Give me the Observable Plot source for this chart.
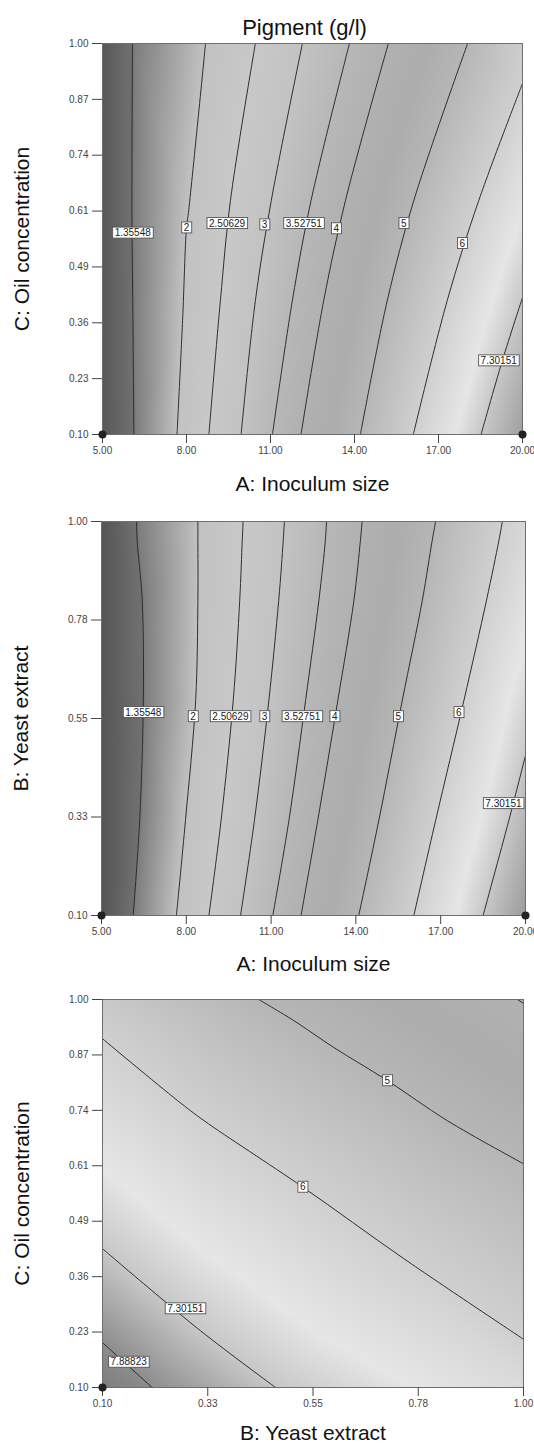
<!DOCTYPE html>
<html><head><meta charset="utf-8">
<script src="https://cdn.jsdelivr.net/npm/d3@7"></script>
<script src="https://cdn.jsdelivr.net/npm/@observablehq/plot@0.6"></script>
<style>
body{margin:0;background:#fff;font-family:"Liberation Sans",Arial,sans-serif;}
svg{display:block}
</style></head><body><div id="chart"></div>
<script>
// ---- grey ramp of the response (value -> shade) ----
const shadeStops = [0.85, 1.355, 1.38, 2.0, 2.5, 3.0, 3.5, 4.0, 4.5, 5.0, 6.0, 6.8, 7.3, 7.9, 8.2];
const shadeGrays = ["#555555","#717171","#7e7e7e","#c2c2c2","#c8c8c8","#c3c3c3","#b8b8b8","#b1b1b1","#adadad","#b6b6b6","#d0d0d0","#e6e6e6","#c8c8c8","#8c8c8c","#7a7a7a"];

// ---- Plot 1: A (inoculum) x C (oil) ----
const p1Levels = [1.35548, 2, 2.50629, 3, 3.52751, 4, 5, 6, 7.30151];
const p1LinePoints = [
  [[6.07,1.0],[6.05,0.611],[6.08,0.408],[6.12,0.1]],
  [[8.68,1.0],[8.07,0.611],[8.0,0.576],[7.86,0.362],[7.66,0.1]],
  [[10.46,1.0],[9.57,0.639],[9.21,0.408],[8.80,0.1]],
  [[12.14,1.0],[11.03,0.639],[10.46,0.408],[9.95,0.1]],
  [[13.82,1.0],[12.45,0.639],[11.78,0.408],[11.07,0.1]],
  [[15.21,1.0],[13.68,0.639],[12.90,0.408],[12.09,0.1]],
  [[18.04,1.0],[16.12,0.639],[15.17,0.408],[14.21,0.1]],
  [[20.0,0.908],[18.44,0.639],[17.31,0.408],[16.10,0.1]],
  [[20.0,0.415],[19.28,0.270],[18.52,0.1]]
];
const p1LabelText = ["1.35548","2","2.50629","3","3.52751","4","5","6","7.30151"];
const p1LabelX = [6.08, 8.0, 9.45, 10.79, 12.19, 13.35, 15.76, 17.85, 19.15];
const p1LabelY = [0.564, 0.576, 0.586, 0.583, 0.586, 0.574, 0.586, 0.540, 0.270];
const p1EdgeSamples = [[5,1.0,0.9],[5,0.55,0.9],[5,0.1,0.9],[20,1.0,5.9],[20,0.1,7.7]];
const p1XTicks = [5, 8, 11, 14, 17, 20];
const p1XTickLabels = ["5.00","8.00","11.00","14.00","17.00","20.00"];
const p1YTicks = [0.1, 0.2286, 0.3571, 0.4857, 0.6143, 0.7429, 0.8714, 1.0];
const p1YTickLabels = ["0.10","0.23","0.36","0.49","0.61","0.74","0.87","1.00"];
const p1Design = [[5,0.1],[20,0.1]];

// ---- Plot 2: A (inoculum) x B (yeast) ----
const p2Levels = [1.35548, 2, 2.50629, 3, 3.52751, 4, 5, 6, 7.30151];
const p2LinePoints = [
  [[6.24,1.0],[6.26,0.957],[6.44,0.820],[6.48,0.591],[6.35,0.317],[6.12,0.1]],
  [[8.41,1.0],[8.41,0.957],[8.41,0.820],[8.33,0.591],[7.97,0.317],[7.65,0.1]],
  [[10.01,1.0],[9.98,0.957],[9.89,0.820],[9.66,0.591],[9.23,0.317],[8.80,0.1]],
  [[11.47,1.0],[11.43,0.957],[11.27,0.820],[10.92,0.591],[10.41,0.317],[9.92,0.1]],
  [[12.96,1.0],[12.92,0.957],[12.69,0.820],[12.22,0.591],[11.63,0.317],[11.06,0.1]],
  [[14.22,1.0],[14.16,0.957],[13.93,0.820],[13.36,0.591],[12.65,0.317],[12.06,0.1]],
  [[16.82,1.0],[16.70,0.957],[16.35,0.820],[15.64,0.591],[14.81,0.317],[14.10,0.1]],
  [[19.18,1.0],[19.06,0.957],[18.62,0.820],[17.82,0.591],[16.82,0.317],[16.05,0.1]],
  [[20.0,0.4655],[19.41,0.317],[18.50,0.1]]
];
const p2LabelText = ["1.35548","2","2.50629","3","3.52751","4","5","6","7.30151"];
const p2LabelX = [6.48, 8.24, 9.56, 10.77, 12.10, 13.25, 15.50, 17.64, 19.22];
const p2LabelY = [0.564, 0.5546, 0.5546, 0.5546, 0.5546, 0.5546, 0.5546, 0.564, 0.356];
const p2EdgeSamples = [[5,1.0,0.85],[5,0.55,0.85],[5,0.1,0.85],[20,1.0,6.25],[20,0.1,7.75]];
const p2XTicks = [5, 8, 11, 14, 17, 20];
const p2XTickLabels = ["5.00","8.00","11.00","14.00","17.00","20.00"];
const p2YTicks = [0.1, 0.325, 0.55, 0.775, 1.0];
const p2YTickLabels = ["0.10","0.33","0.55","0.78","1.00"];
const p2Design = [[5,0.1],[20,0.1]];

// ---- Plot 3: B (yeast) x C (oil) ----
const p3Levels = [4, 5, 6, 7.30151, 7.88823];
const p3LinePoints = [
  [[0.987,1.0],[1.0,0.991]],
  [[0.434,1.0],[0.509,0.951],[0.594,0.889],[0.709,0.812],[0.837,0.719],[1.0,0.619]],
  [[0.1,0.909],[0.26,0.766],[0.317,0.719],[0.528,0.565],[0.744,0.399],[1.0,0.212]],
  [[0.1,0.422],[0.309,0.232],[0.47,0.1]],
  [[0.1,0.204],[0.206,0.1]]
];
const p3LabelText = ["5","6","7.30151","7.88823"];
const p3LabelX = [0.709, 0.528, 0.277, 0.156];
const p3LabelY = [0.812, 0.565, 0.283, 0.159];
const p3EdgeSamples = [[0.1,1.0,5.7],[1.0,1.0,3.95],[1.0,0.1,6.4],[0.1,0.1,8.15]];
const p3XTicks = [0.1, 0.325, 0.55, 0.775, 1.0];
const p3XTickLabels = ["0.10","0.33","0.55","0.78","1.00"];
const p3YTicks = [0.1, 0.2286, 0.3571, 0.4857, 0.6143, 0.7429, 0.8714, 1.0];
const p3YTickLabels = ["0.10","0.23","0.36","0.49","0.61","0.74","0.87","1.00"];
const p3Design = [[0.1,0.1]];

const FONT = "Liberation Sans, Arial, sans-serif";

function panel(o) {
  const lineRows = [];
  o.levels.forEach((lv, i) => o.lines[i].forEach(([x, y]) => lineRows.push({x, y, v: lv, id: i})));
  const samples = lineRows.map(d => ({x: d.x, y: d.y, v: d.v}))
    .concat(o.edge.map(([x, y, v]) => ({x, y, v})));
  const labels = o.labText.map((t, i) => ({t, x: o.labX[i], y: o.labY[i]}));
  const marks = [
    Plot.raster(samples, {x: "x", y: "y", fill: "v", interpolate: "barycentric"}),
    Plot.line(lineRows, {x: "x", y: "y", z: "id", curve: "catmull-rom", stroke: "#2e2e2e", strokeWidth: 1}),
    Plot.frame({stroke: "#6e6e6e"}),
    Plot.axisX({ticks: o.xTicks, tickFormat: d => o.xTickLabels[o.xTicks.indexOf(d)], tickSize: 9, tickPadding: 3, fontSize: 10, color: "#444", label: null}),
    Plot.axisY({ticks: o.yTicks, tickFormat: d => o.yTickLabels[o.yTicks.indexOf(d)], tickSize: 10, tickPadding: 4, fontSize: 10, color: "#444", label: null}),
    Plot.text(labels, {x: "x", y: "y", text: "t", fontSize: 10, fill: "#222", ariaDescription: "clabel"}),
    Plot.dot(o.design, {x: d => d[0], y: d => d[1], r: 4, fill: "#222", stroke: "none"}),
    Plot.text([o.xLabel], {frameAnchor: "bottom", lineAnchor: "middle", textAnchor: "middle", dy: o.xLabelDy, fontSize: 21, fill: "#111", text: d => d}),
    Plot.text([o.yLabel], {frameAnchor: "left", lineAnchor: "middle", textAnchor: "middle", rotate: -90, dx: -80, fontSize: 21, fill: "#111", text: d => d})
  ];
  if (o.title) marks.push(Plot.text([o.title], {frameAnchor: "top", lineAnchor: "middle", textAnchor: "middle", dy: -16, dx: -8, fontSize: 22, fill: "#111", text: d => d}));
  return Plot.plot({
    width: 534, height: o.height,
    marginTop: o.mt, marginBottom: o.mb, marginLeft: o.ml, marginRight: o.mr,
    style: {fontFamily: FONT, background: "#fff", overflow: "visible"},
    x: {domain: o.xDomain, axis: null},
    y: {domain: o.yDomain, axis: null},
    color: {type: "linear", domain: shadeStops, range: shadeGrays, clamp: true},
    marks
  });
}

const chart = document.getElementById("chart");
chart.append(panel({
  levels: p1Levels, lines: p1LinePoints, labText: p1LabelText, labX: p1LabelX, labY: p1LabelY, edge: p1EdgeSamples,
  xDomain: [5, 20], yDomain: [0.1, 1.0], xTicks: p1XTicks, xTickLabels: p1XTickLabels, yTicks: p1YTicks, yTickLabels: p1YTickLabels,
  design: p1Design, xLabel: "A: Inoculum size", yLabel: "C: Oil concentration", title: "Pigment (g/l)",
  height: 495, mt: 43, mb: 61, ml: 102, mr: 12, xLabelDy: 50
}));
chart.append(panel({
  levels: p2Levels, lines: p2LinePoints, labText: p2LabelText, labX: p2LabelX, labY: p2LabelY, edge: p2EdgeSamples,
  xDomain: [5, 20], yDomain: [0.1, 1.0], xTicks: p2XTicks, xTickLabels: p2XTickLabels, yTicks: p2YTicks, yTickLabels: p2YTickLabels,
  design: p2Design, xLabel: "A: Inoculum size", yLabel: "B: Yeast extract",
  height: 480, mt: 26, mb: 60, ml: 101, mr: 9, xLabelDy: 49
}));
chart.append(panel({
  levels: p3Levels, lines: p3LinePoints, labText: p3LabelText, labX: p3LabelX, labY: p3LabelY, edge: p3EdgeSamples,
  xDomain: [0.1, 1.0], yDomain: [0.1, 1.0], xTicks: p3XTicks, xTickLabels: p3XTickLabels, yTicks: p3YTicks, yTickLabels: p3YTickLabels,
  design: p3Design, xLabel: "B: Yeast extract", yLabel: "C: Oil concentration",
  height: 471, mt: 24, mb: 59, ml: 102, mr: 11, xLabelDy: 46
}));

// white boxes behind contour labels
document.querySelectorAll('g[aria-description="clabel"] text').forEach(t => {
  const bb = t.getBBox();
  const r = document.createElementNS("http://www.w3.org/2000/svg", "rect");
  r.setAttribute("x", bb.x - 2);
  r.setAttribute("y", bb.y);
  r.setAttribute("width", bb.width + 4);
  r.setAttribute("height", bb.height);
  r.setAttribute("fill", "#fff");
  r.setAttribute("stroke", "#555");
  r.setAttribute("stroke-width", "0.9");
  const tr = t.getAttribute("transform");
  if (tr) r.setAttribute("transform", tr);
  t.parentNode.insertBefore(r, t);
});
</script></body></html>
